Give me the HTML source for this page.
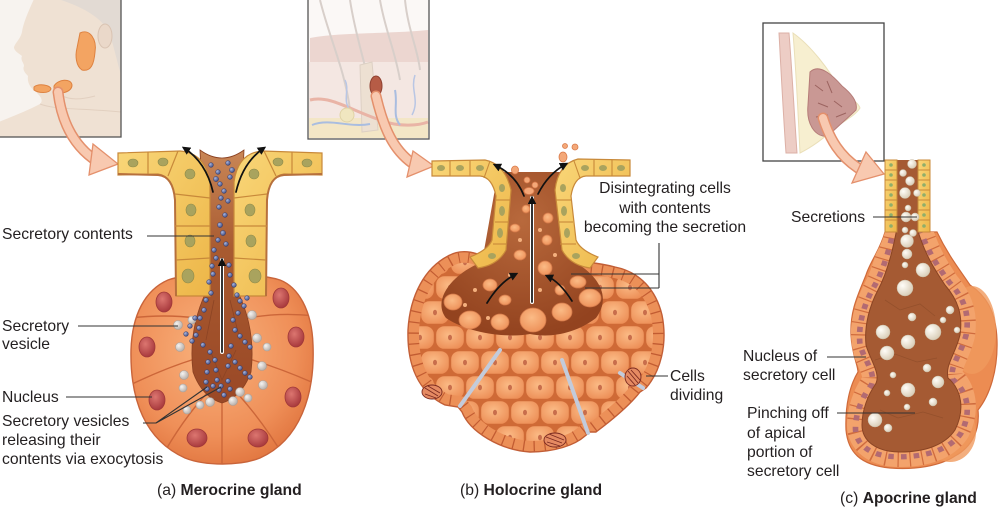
<!DOCTYPE html>
<html><head><meta charset="utf-8">
<style>
html,body{margin:0;padding:0;background:#fff;}
svg{display:block;}
text{font-family:"Liberation Sans",Arial,sans-serif;font-size:15.7px;fill:#231f20;}
</style></head><body>
<svg width="1000" height="510" viewBox="0 0 1000 510" xmlns="http://www.w3.org/2000/svg">
<defs>
 <radialGradient id="lobeA" cx="0.45" cy="0.4" r="0.65">
  <stop offset="0" stop-color="#f9b37e"/><stop offset="0.7" stop-color="#ef8f58"/><stop offset="1" stop-color="#e0743e"/>
 </radialGradient>
 <radialGradient id="cellG" cx="0.45" cy="0.4" r="0.7">
  <stop offset="0" stop-color="#fbbb86"/><stop offset="1" stop-color="#ec8c54"/>
 </radialGradient>
 <radialGradient id="nucR" cx="0.4" cy="0.35" r="0.7">
  <stop offset="0" stop-color="#dc7670"/><stop offset="1" stop-color="#a5363a"/>
 </radialGradient>
 <radialGradient id="lumB" cx="0.5" cy="0.3" r="0.7">
  <stop offset="0" stop-color="#b8693c"/><stop offset="1" stop-color="#93431f"/>
 </radialGradient>
 <linearGradient id="lumA" x1="0" y1="0" x2="0" y2="1">
  <stop offset="0" stop-color="#c98656"/><stop offset="0.4" stop-color="#a85a30"/><stop offset="1" stop-color="#9a4826"/>
 </linearGradient>
 <radialGradient id="wht" cx="0.35" cy="0.35" r="0.7"><stop offset="0" stop-color="#fffdf8"/><stop offset="1" stop-color="#d8ccb6"/></radialGradient>
 <radialGradient id="blu" cx="0.35" cy="0.35" r="0.7"><stop offset="0" stop-color="#aab6dc"/><stop offset="1" stop-color="#3b4880"/></radialGradient>
 <radialGradient id="gry" cx="0.35" cy="0.35" r="0.7"><stop offset="0" stop-color="#f6f4f2"/><stop offset="1" stop-color="#b5aca6"/></radialGradient>
 <linearGradient id="yel" x1="0" y1="0" x2="1" y2="1"><stop offset="0" stop-color="#f9d678"/><stop offset="1" stop-color="#edb648"/></linearGradient>
 <pattern id="cells" width="30" height="50" patternUnits="userSpaceOnUse">
  <rect width="30" height="50" fill="#cf6a36"/>
  <rect x="1.2" y="1.2" width="27.6" height="22.6" rx="8" fill="url(#cellG)"/>
  <rect x="16.2" y="26.2" width="27.6" height="22.6" rx="8" fill="url(#cellG)"/>
  <rect x="-13.8" y="26.2" width="27.6" height="22.6" rx="8" fill="url(#cellG)"/>
  <ellipse cx="15" cy="12.5" rx="2" ry="2.8" fill="#c86e4c"/>
  <ellipse cx="0" cy="37.5" rx="2" ry="2.8" fill="#c86e4c"/>
  <ellipse cx="30" cy="37.5" rx="2" ry="2.8" fill="#c86e4c"/>
 </pattern>
 <marker id="ah" viewBox="0 0 10 10" refX="7" refY="5" markerWidth="5" markerHeight="5" orient="auto"><path d="M0,0 L10,5 L0,10 z" fill="#111"/></marker>
 <clipPath id="hclip"><path d="M490,262 C480,252 462,248 448,256 C425,268 410,295 408,330 C407,365 418,392 445,405 L458,407 L462,412 C470,432 500,450 530,452 C555,452 575,445 585,436 L590,432 L596,432 C612,420 630,405 640,392 L646,388 C660,372 668,345 662,315 C656,290 640,272 615,267 C595,262 582,262 572,262 Z"/></clipPath>
 <clipPath id="aclip"><path d="M885,232 C880,250 870,262 866,275 C858,295 850,310 851,335 C852,355 858,365 858,372 C850,385 845,405 846,430 C848,452 860,465 890,468 C915,470 940,466 955,456 C972,447 980,430 978,410 C990,395 998,370 997,340 C996,310 985,295 970,285 C960,270 948,255 937,232 Z"/></clipPath>
 <clipPath id="mclip"><path d="M168,280 C190,272 255,272 280,280 C298,287 312,310 313,345 C315,395 300,440 260,458 C240,466 205,466 185,458 C145,440 130,400 131,350 C132,315 145,290 168,280 Z"/></clipPath>
</defs>

<!-- ===== Inset 1: face ===== -->
<g>
 <rect x="-1" y="-1" width="122" height="138" fill="#f7f3ef"/>
 <path d="M34,-1 C28,12 23,24 22,32 C20,40 14,44 14,48 C15,52 20,54 22,56 C20,60 24,63 24,66 C22,70 26,74 28,76 C27,82 30,88 36,92 C40,96 44,100 40,104 C25,112 8,118 -1,122 L-1,137 L121,137 L121,-1 Z" fill="#efe1d3"/>
 <path d="M58,-1 L121,-1 L121,75 C116,58 113,42 108,30 C100,18 86,8 58,-1 Z" fill="#e2dad3"/>
 <ellipse cx="105" cy="36" rx="7" ry="12" fill="#ead8c9" stroke="#d9c3b2"/>
 <path d="M40,104 C55,110 80,108 121,112" stroke="#e2d0c0" fill="none"/>
 <path d="M60,95 C70,100 80,100 95,96" stroke="#e2d0c0" fill="none"/>
 <path d="M80,33 C90,28 97,40 95,52 C94,64 91,72 82,70 C76,66 75,56 77,48 Z" fill="#f3a462" stroke="#de8240"/>
 <path d="M54,86 C58,79 71,78 72,85 C72,92 60,95 54,92 Z" fill="#f3a462" stroke="#de8240"/>
 <path d="M34,87 C39,83 50,85 51,89 C49,94 38,93 34,90 Z" fill="#f3a462" stroke="#de8240"/>
 <rect x="-1" y="-1" width="122" height="138" fill="none" stroke="#555" stroke-width="1.3"/>
</g>

<!-- ===== Inset 2: skin ===== -->
<g>
 <rect x="308" y="-1" width="121" height="140" fill="#fbf8f6"/>
 <path d="M310,38 C340,32 390,34 428,30 L428,62 C390,64 340,60 310,64 Z" fill="#ecd6d0"/>
 <rect x="309" y="62" width="119" height="58" fill="#f4e7e2"/>
 <rect x="309" y="118" width="119" height="20" fill="#f3e6c6"/>
 <path d="M320,0 C330,40 345,70 350,110" stroke="#d8cfca" stroke-width="2" fill="none"/>
 <path d="M350,0 C356,40 368,70 372,100" stroke="#d8cfca" stroke-width="2" fill="none"/>
 <path d="M380,0 C385,30 395,50 400,80" stroke="#d8cfca" stroke-width="2" fill="none"/>
 <path d="M405,0 C408,30 418,50 420,70" stroke="#d8cfca" stroke-width="2" fill="none"/>
 <path d="M360,65 L372,62 L378,130 L362,132 Z" fill="#ede0d2" stroke="#ddd0c4"/>
 <path d="M310,100 C330,95 350,110 380,120 C400,128 420,125 428,122" stroke="#e9b4a6" stroke-width="3" fill="none"/>
 <path d="M312,125 C330,118 350,128 370,124 M395,90 C398,105 392,115 400,125" stroke="#a9bde0" stroke-width="2" fill="none"/>
 <path d="M345,80 C350,90 342,100 350,110 M415,75 C410,90 420,100 412,115" stroke="#b9c6e4" stroke-width="1.5" fill="none"/>
 <circle cx="347" cy="115" r="7" fill="#f0e6c0" stroke="#e0d3a6"/>
 <ellipse cx="376" cy="86" rx="6" ry="10" fill="#b65c46" stroke="#8f4030"/>
 <rect x="308" y="-1" width="121" height="140" fill="none" stroke="#555" stroke-width="1.3"/>
</g>

<!-- ===== Inset 3: breast ===== -->
<g>
 <rect x="763" y="23" width="121" height="138" fill="#fff"/>
 <path d="M779,33 L789,33 C792,70 794,110 797,153 L786,153 C783,110 781,70 779,33 Z" fill="#edcdc5" stroke="#dcb0a6"/>
 <path d="M793,33 C810,45 830,70 840,90 C850,98 858,102 860,108 C855,116 845,120 835,128 C822,140 810,148 800,153 C798,110 796,70 793,33 Z" fill="#f7efd0" stroke="#eadfb8"/>
 <path d="M810,72 C820,62 835,78 842,86 C852,94 858,102 856,110 C848,118 838,126 828,136 C816,138 806,125 808,105 Z" fill="#c99894" stroke="#b57c78"/>
 <path d="M815,85 l8,6 m4,-10 l5,12 m-14,10 l10,4 m-12,10 l12,-2 m6,-14 l8,6 m-6,10 l10,-4" stroke="#9c6460" stroke-width="1" fill="none"/>
 <rect x="763" y="23" width="121" height="138" fill="none" stroke="#444" stroke-width="1.3"/>
</g>

<!-- ===== Salmon pointer arrows ===== -->
<g fill="none" stroke-linecap="round">
 <path d="M58,92 C62,125 76,148 98,162" stroke="#e4906c" stroke-width="11"/>
 <path d="M58,92 C62,125 76,148 98,162" stroke="#f8c9b0" stroke-width="8"/>
 <path d="M376,96 C384,130 394,150 412,163" stroke="#e4906c" stroke-width="11"/>
 <path d="M376,96 C384,130 394,150 412,163" stroke="#f8c9b0" stroke-width="8"/>
 <path d="M823,118 C830,140 840,156 858,168" stroke="#e4906c" stroke-width="11"/>
 <path d="M823,118 C830,140 840,156 858,168" stroke="#f8c9b0" stroke-width="8"/>
</g>
<polygon points="93,144 118,164 89,175" fill="#f8c9b0" stroke="#e4906c" stroke-width="1.3"/>
<polygon points="413,151 434,166 407,177" fill="#f8c9b0" stroke="#e4906c" stroke-width="1.3"/>
<polygon points="866,152 884,174 852,183" fill="#f8c9b0" stroke="#e4906c" stroke-width="1.3"/>

<!-- ===== (a) Merocrine gland ===== -->
<g>
 <path d="M168,280 C190,272 255,272 280,280 C298,287 312,310 313,345 C315,395 300,440 260,458 C240,466 205,466 185,458 C145,440 130,400 131,350 C132,315 145,290 168,280 Z" fill="url(#lobeA)" stroke="#c9643a" stroke-width="1.4"/>
 <g fill="none" stroke="#cc6639" stroke-width="1.4" clip-path="url(#mclip)">
  <path d="M196,318 Q165,314 130,318"/>
  <path d="M198,358 Q165,368 128,386"/>
  <path d="M208,392 Q182,420 160,460"/>
  <path d="M222,400 L222,470"/>
  <path d="M236,392 Q262,420 286,460"/>
  <path d="M246,358 Q280,368 316,384"/>
  <path d="M248,318 Q280,312 316,316"/>
 </g>
 <g fill="url(#nucR)" stroke="#a03838" stroke-width="0.8">
  <ellipse cx="164" cy="302" rx="8" ry="10"/>
  <ellipse cx="281" cy="298" rx="8" ry="10"/>
  <ellipse cx="147" cy="347" rx="8" ry="10"/>
  <ellipse cx="296" cy="337" rx="8" ry="10"/>
  <ellipse cx="157" cy="400" rx="8" ry="10"/>
  <ellipse cx="293" cy="397" rx="8" ry="10"/>
  <ellipse cx="197" cy="438" rx="10" ry="9"/>
  <ellipse cx="258" cy="438" rx="10" ry="9"/>
 </g>
 <!-- lumen -->
 <path d="M200,150 Q222,166 244,150 L238,292 Q256,330 251,372 Q242,397 222,403 Q202,397 193,372 Q188,330 206,292 Z" fill="url(#lumA)" stroke="#8a4020" stroke-width="0.8"/>
 <path d="M214,300 L206,340 M230,300 L240,340 M210,350 L222,380 L236,350" stroke="#8c4424" stroke-width="0.8" fill="none"/>
 <!-- yellow bands -->
 <path d="M118,153 L180,151 Q205,153 210,182 L210,296 L176,296 L175,200 Q173,176 158,174 L118,175 Z" fill="url(#yel)" stroke="#c8893a" stroke-width="1.2"/>
 <path d="M322,153 L262,151 Q238,153 234,182 L234,296 L266,296 L267,200 Q269,176 284,174 L322,175 Z" fill="url(#yel)" stroke="#c8893a" stroke-width="1.2"/>
 <path d="M118,174 L158,175 Q173,176 175,200 L176,296" stroke="#b7703c" stroke-width="2" fill="none"/>
 <path d="M322,174 L284,175 Q269,176 267,200 L266,296" stroke="#b7703c" stroke-width="2" fill="none"/>
 <g stroke="#c8893a" stroke-width="1.2" fill="none">
  <path d="M148,152 L148,174"/><path d="M178,151 L168,176"/>
  <path d="M175,194 L210,198"/><path d="M175,226 L210,226"/><path d="M176,260 L210,258"/>
  <path d="M292,152 L292,174"/><path d="M264,151 L276,176"/>
  <path d="M234,198 L267,194"/><path d="M234,226 L267,226"/><path d="M234,258 L266,260"/>
 </g>
 <g fill="#a9a35e" stroke="#8f8a48" stroke-width="0.6">
  <ellipse cx="133" cy="163" rx="5" ry="4"/><ellipse cx="163" cy="162" rx="5" ry="4"/><ellipse cx="190" cy="174" rx="5" ry="5"/>
  <ellipse cx="191" cy="210" rx="5" ry="6"/><ellipse cx="190" cy="241" rx="5" ry="6"/><ellipse cx="188" cy="276" rx="6" ry="7"/>
  <ellipse cx="307" cy="163" rx="5" ry="4"/><ellipse cx="278" cy="162" rx="5" ry="4"/><ellipse cx="254" cy="174" rx="5" ry="5"/>
  <ellipse cx="250" cy="210" rx="5" ry="6"/><ellipse cx="251" cy="241" rx="5" ry="6"/><ellipse cx="255" cy="276" rx="6" ry="7"/>
 </g>
 <!-- grey vesicles -->
 <g fill="url(#gry)" stroke="#a9a09a" stroke-width="0.6">
  <circle cx="178" cy="325" r="4.5"/><circle cx="192" cy="320" r="4"/><circle cx="180" cy="347" r="4.5"/>
  <circle cx="184" cy="375" r="4.5"/><circle cx="183" cy="388" r="4"/><circle cx="252" cy="315" r="4.5"/>
  <circle cx="257" cy="338" r="4.5"/><circle cx="267" cy="347" r="4"/><circle cx="262" cy="366" r="4.5"/>
  <circle cx="263" cy="385" r="4.5"/><circle cx="240" cy="392" r="4.5"/><circle cx="248" cy="398" r="4"/>
  <circle cx="233" cy="401" r="4.5"/><circle cx="210" cy="402" r="4.5"/><circle cx="200" cy="405" r="4"/>
  <circle cx="187" cy="410" r="4"/>
 </g>
 <!-- blue dots -->
 <g fill="url(#blu)" stroke="#2c3566" stroke-width="0.4">
  <circle cx="211" cy="165" r="2.4"/><circle cx="218" cy="172" r="2.4"/><circle cx="216" cy="179" r="2.6"/>
  <circle cx="228" cy="163" r="2.4"/><circle cx="232" cy="170" r="2.6"/><circle cx="230" cy="177" r="2.4"/>
  <circle cx="220" cy="184" r="2.4"/><circle cx="224" cy="191" r="2.4"/><circle cx="221" cy="198" r="2.4"/>
  <circle cx="228" cy="201" r="2.4"/><circle cx="219" cy="207" r="2.4"/><circle cx="225" cy="215" r="2.4"/>
  <circle cx="220" cy="225" r="2.6"/><circle cx="223" cy="233" r="2.6"/><circle cx="218" cy="240" r="2.4"/>
  <circle cx="226" cy="244" r="2.4"/><circle cx="214" cy="250" r="2.4"/><circle cx="216" cy="258" r="2.4"/>
  <circle cx="212" cy="266" r="2.4"/><circle cx="213" cy="274" r="2.4"/><circle cx="209" cy="282" r="2.4"/>
  <circle cx="211" cy="293" r="2.4"/><circle cx="206" cy="300" r="2.4"/><circle cx="204" cy="310" r="2.4"/>
  <circle cx="200" cy="318" r="2.4"/><circle cx="199" cy="328" r="2.4"/><circle cx="196" cy="335" r="2.4"/>
  <circle cx="192" cy="341" r="2.4"/><circle cx="203" cy="345" r="2.4"/><circle cx="210" cy="352" r="2.4"/>
  <circle cx="208" cy="362" r="2.4"/><circle cx="207" cy="372" r="2.4"/><circle cx="206" cy="382" r="2.4"/>
  <circle cx="207" cy="389" r="2.4"/><circle cx="215" cy="360" r="2.4"/><circle cx="216" cy="370" r="2.4"/>
  <circle cx="217" cy="380" r="2.4"/><circle cx="219" cy="390" r="2.4"/><circle cx="229" cy="265" r="2.4"/>
  <circle cx="230" cy="275" r="2.4"/><circle cx="234" cy="285" r="2.4"/><circle cx="237" cy="295" r="2.4"/>
  <circle cx="240" cy="301" r="2.4"/><circle cx="244" cy="306" r="2.4"/><circle cx="238" cy="313" r="2.4"/>
  <circle cx="233" cy="320" r="2.4"/><circle cx="235" cy="330" r="2.4"/><circle cx="240" cy="336" r="2.4"/>
  <circle cx="245" cy="342" r="2.4"/><circle cx="250" cy="347" r="2.4"/><circle cx="231" cy="346" r="2.4"/>
  <circle cx="229" cy="356" r="2.4"/><circle cx="228" cy="366" r="2.4"/><circle cx="235" cy="362" r="2.4"/>
  <circle cx="240" cy="368" r="2.4"/><circle cx="245" cy="373" r="2.4"/><circle cx="250" cy="377" r="2.4"/>
  <circle cx="228" cy="381" r="2.4"/><circle cx="230" cy="389" r="2.4"/><circle cx="224" cy="395" r="2.4"/>
  <circle cx="186" cy="334" r="2.4"/><circle cx="190" cy="326" r="2.4"/><circle cx="195" cy="318" r="2.4"/>
  <circle cx="247" cy="298" r="2.4"/><circle cx="213" cy="386" r="2.4"/><circle cx="221" cy="386" r="2.4"/>
 </g>
 <!-- black arrows -->
 <g fill="none" stroke-linecap="round">
  <path d="M222,352 L222,260" stroke="#fff" stroke-width="4"/>
  <path d="M222,352 L222,260" stroke="#111" stroke-width="1.7" marker-end="url(#ah)"/>
  <path d="M213,192 Q206,162 184,148" stroke="#111" stroke-width="1.7" marker-end="url(#ah)"/>
  <path d="M236,192 Q243,162 264,148" stroke="#111" stroke-width="1.7" marker-end="url(#ah)"/>
 </g>
</g>

<!-- ===== (b) Holocrine gland ===== -->
<g>
 <g clip-path="url(#hclip)">
  <rect x="400" y="240" width="280" height="220" fill="url(#cells)"/>
  <path d="M490,262 C480,252 462,248 448,256 C425,268 410,295 408,330 C407,365 418,392 445,405 L458,407 L462,412 C470,432 500,450 530,452 C555,452 575,445 585,436 L590,432 L596,432 C612,420 630,405 640,392 L646,388 C660,372 668,345 662,315 C656,290 640,272 615,267 C595,262 582,262 572,262 Z" fill="none" stroke="#ec9058" stroke-width="22"/>
  <path d="M490,262 C480,252 462,248 448,256 C425,268 410,295 408,330 C407,365 418,392 445,405 L458,407 L462,412 C470,432 500,450 530,452 C555,452 575,445 585,436 L590,432 L596,432 C612,420 630,405 640,392 L646,388 C660,372 668,345 662,315 C656,290 640,272 615,267 C595,262 582,262 572,262 Z" fill="none" stroke="#c25c32" stroke-width="22" stroke-dasharray="1.3 10"/>
 </g>
 <path d="M490,262 C480,252 462,248 448,256 C425,268 410,295 408,330 C407,365 418,392 445,405 L458,407 L462,412 C470,432 500,450 530,452 C555,452 575,445 585,436 L590,432 L596,432 C612,420 630,405 640,392 L646,388 C660,372 668,345 662,315 C656,290 640,272 615,267 C595,262 582,262 572,262 Z" fill="none" stroke="#c25e36" stroke-width="1.4"/>
 <!-- brown central region -->
 <path d="M498,172 L562,172 L575,262 C598,276 612,296 596,318 C575,334 550,338 530,334 C508,338 470,334 446,318 C432,300 452,274 482,262 Z" fill="url(#lumB)"/>
 <g fill="url(#cellG)" stroke="#d47a4a" stroke-width="0.8">
  <ellipse cx="453" cy="302" rx="9" ry="8"/><ellipse cx="470" cy="320" rx="11" ry="9"/>
  <ellipse cx="500" cy="322" rx="9" ry="8"/><ellipse cx="533" cy="320" rx="13" ry="12"/>
  <ellipse cx="562" cy="312" rx="10" ry="9"/><ellipse cx="590" cy="298" rx="11" ry="9"/>
  <ellipse cx="578" cy="282" rx="8" ry="6"/><ellipse cx="545" cy="268" rx="7" ry="7"/>
  <ellipse cx="520" cy="255" rx="6" ry="5"/><ellipse cx="547" cy="240" rx="5" ry="5"/>
  <ellipse cx="515" cy="228" rx="5" ry="4"/><ellipse cx="548" cy="218" rx="5" ry="5"/>
  <ellipse cx="526" cy="209" rx="4" ry="4"/><ellipse cx="490" cy="285" rx="7" ry="6"/>
  <ellipse cx="505" cy="300" rx="6" ry="5"/><ellipse cx="560" cy="290" rx="5" ry="5"/>
 </g>
 <g fill="#f4b07e">
  <circle cx="475" cy="290" r="2"/><circle cx="465" cy="305" r="2"/><circle cx="510" cy="275" r="2"/>
  <circle cx="540" cy="290" r="2"/><circle cx="555" cy="255" r="2"/><circle cx="520" cy="240" r="2"/>
  <circle cx="540" cy="230" r="2"/><circle cx="600" cy="280" r="2"/><circle cx="488" cy="318" r="2"/>
 </g>
 <!-- gaps -->
 <g stroke="#c3cbdb" stroke-width="4" fill="none" stroke-linecap="round">
  <path d="M500,350 L460,406"/><path d="M562,360 L588,433"/><path d="M620,373 L643,388"/>
 </g>
 <!-- dividing cells -->
 <g stroke="#7a2a20" stroke-width="0.9" fill="none">
  <ellipse cx="432" cy="392" rx="10" ry="7" fill="#e58a62"/>
  <path d="M425,388 L438,396 M428,386 L440,393 M425,394 L436,398"/>
  <ellipse cx="555" cy="440" rx="11" ry="7" fill="#e58a62"/>
  <path d="M546,437 L562,443 M549,434 L564,440 M547,442 L560,446"/>
  <ellipse cx="633" cy="377" rx="8" ry="9" fill="#e58a62"/>
  <path d="M628,371 L638,383 M631,370 L640,380 M627,376 L635,385"/>
 </g>
 <!-- yellow bands -->
 <path d="M432,161 L485,160 Q505,164 511,190 L506,250 Q498,265 478,268 L470,257 Q488,250 492,240 L496,196 Q492,177 480,176 L432,176 Z" fill="url(#yel)" stroke="#c8893a" stroke-width="1.2"/>
 <path d="M630,160 L578,159 Q558,164 555,190 L562,250 Q570,265 590,268 L598,257 Q580,250 576,240 L571,196 Q574,177 586,176 L630,176 Z" fill="url(#yel)" stroke="#c8893a" stroke-width="1.2"/>
 <g stroke="#c8893a" stroke-width="1.1" fill="none">
  <path d="M450,161 L450,176"/><path d="M470,160 L470,176"/><path d="M490,161 L484,178"/>
  <path d="M496,200 L510,200"/><path d="M495,222 L509,222"/><path d="M493,244 L507,244"/>
  <path d="M612,160 L612,176"/><path d="M594,160 L594,176"/><path d="M574,161 L580,178"/>
  <path d="M556,200 L571,200"/><path d="M558,222 L573,222"/><path d="M560,244 L576,244"/>
 </g>
 <g fill="#a9a35e">
  <ellipse cx="441" cy="168" rx="4" ry="3"/><ellipse cx="460" cy="168" rx="4" ry="3"/><ellipse cx="480" cy="168" rx="4" ry="3"/>
  <ellipse cx="502" cy="188" rx="3" ry="4"/><ellipse cx="502" cy="211" rx="3" ry="5"/><ellipse cx="500" cy="233" rx="3" ry="5"/><ellipse cx="492" cy="256" rx="4" ry="3"/>
  <ellipse cx="621" cy="168" rx="4" ry="3"/><ellipse cx="603" cy="168" rx="4" ry="3"/><ellipse cx="585" cy="168" rx="4" ry="3"/>
  <ellipse cx="563" cy="188" rx="3" ry="4"/><ellipse cx="564" cy="211" rx="3" ry="5"/><ellipse cx="567" cy="233" rx="3" ry="5"/><ellipse cx="576" cy="256" rx="4" ry="3"/>
 </g>
 <!-- fragments -->
 <g fill="#f4a878" stroke="#d97a4a" stroke-width="0.8">
  <ellipse cx="515" cy="170" rx="3.5" ry="4"/><ellipse cx="527" cy="180" rx="3" ry="3"/>
  <ellipse cx="535" cy="185" rx="3" ry="3"/><ellipse cx="529" cy="191" rx="5" ry="3.5"/>
  <ellipse cx="563" cy="157" rx="4" ry="5"/><ellipse cx="565" cy="146" rx="2.5" ry="2.5"/>
  <ellipse cx="575" cy="147" rx="3" ry="3"/>
 </g>
 <!-- arrows -->
 <g fill="none" stroke-linecap="round">
  <path d="M532,302 L532,198" stroke="#fff" stroke-width="4"/>
  <path d="M532,302 L532,198" stroke="#111" stroke-width="1.7" marker-end="url(#ah)"/>
  <path d="M524,196 Q516,175 495,165" stroke="#111" stroke-width="1.7" marker-end="url(#ah)"/>
  <path d="M538,194 Q548,174 566,164" stroke="#111" stroke-width="1.7" marker-end="url(#ah)"/>
  <path d="M487,303 Q500,282 516,274" stroke="#111" stroke-width="1.7" marker-end="url(#ah)"/>
  <path d="M572,301 Q560,282 547,276" stroke="#111" stroke-width="1.7" marker-end="url(#ah)"/>
 </g>
</g>

<!-- ===== (c) Apocrine gland ===== -->
<g>
 <path d="M885,232 C880,250 870,262 866,275 C858,295 850,310 851,335 C852,355 858,365 858,372 C850,385 845,405 846,430 C848,452 860,465 890,468 C915,470 940,466 955,456 C972,447 980,430 978,410 C990,395 998,370 997,340 C996,310 985,295 970,285 C960,270 948,255 937,232 Z" fill="#ec8c52" stroke="#cf6a3a" stroke-width="1.2"/>
 <ellipse cx="972" cy="330" rx="24" ry="44" fill="#f09a5e" opacity="0.8"/>
 <ellipse cx="950" cy="432" rx="26" ry="30" fill="#f09a5e" opacity="0.8"/>
 <g clip-path="url(#aclip)">
  <path d="M897,228 L917,228 C925,255 935,270 945,285 C958,300 963,315 960,335 C955,355 945,365 948,378 C962,390 965,410 955,430 C945,445 925,452 900,452 C875,452 862,440 862,425 C862,410 868,395 875,385 C882,375 870,360 866,345 C864,325 870,305 878,290 C886,275 892,255 897,228 Z" fill="none" stroke="#f3a36c" stroke-width="30"/>
  <path d="M897,228 L917,228 C925,255 935,270 945,285 C958,300 963,315 960,335 C955,355 945,365 948,378 C962,390 965,410 955,430 C945,445 925,452 900,452 C875,452 862,440 862,425 C862,410 868,395 875,385 C882,375 870,360 866,345 C864,325 870,305 878,290 C886,275 892,255 897,228 Z" fill="none" stroke="#d06c3e" stroke-width="30" stroke-dasharray="1.2 10"/>
  <path d="M897,228 L917,228 C925,255 935,270 945,285 C958,300 963,315 960,335 C955,355 945,365 948,378 C962,390 965,410 955,430 C945,445 925,452 900,452 C875,452 862,440 862,425 C862,410 868,395 875,385 C882,375 870,360 866,345 C864,325 870,305 878,290 C886,275 892,255 897,228 Z" fill="none" stroke="#b26a72" stroke-width="5" stroke-dasharray="5 6.2" stroke-dashoffset="-3" transform="translate(912 345) scale(1.13 1.045) translate(-912 -345)"/>
 </g>
 <path d="M897,228 L917,228 C925,255 935,270 945,285 C958,300 963,315 960,335 C955,355 945,365 948,378 C962,390 965,410 955,430 C945,445 925,452 900,452 C875,452 862,440 862,425 C862,410 868,395 875,385 C882,375 870,360 866,345 C864,325 870,305 878,290 C886,275 892,255 897,228 Z" fill="#a55a33" stroke="#8a4424" stroke-width="1"/>
 <path d="M885,300 l15,10 l20,-6 l15,12 M875,360 l20,-6 l22,8 l20,-4 M880,410 l18,8 l25,-6 l20,6" stroke="#94502c" stroke-width="0.8" fill="none"/>
 <!-- duct top -->
 <rect x="897" y="160" width="21" height="72" fill="#a55a33"/>
 <rect x="885" y="160" width="12" height="72" fill="url(#yel)" stroke="#c8893a" stroke-width="1"/>
 <rect x="918" y="160" width="12" height="72" fill="url(#yel)" stroke="#c8893a" stroke-width="1"/>
 <g stroke="#c8893a" stroke-width="0.9">
  <path d="M885,170 h12 M885,180 h12 M885,190 h12 M885,200 h12 M885,210 h12 M885,220 h12"/>
  <path d="M918,170 h12 M918,180 h12 M918,190 h12 M918,200 h12 M918,210 h12 M918,220 h12"/>
 </g>
 <g fill="#8fae6a">
  <circle cx="891" cy="165" r="1.8"/><circle cx="891" cy="175" r="1.8"/><circle cx="891" cy="185" r="1.8"/><circle cx="891" cy="195" r="1.8"/><circle cx="891" cy="205" r="1.8"/><circle cx="891" cy="215" r="1.8"/><circle cx="891" cy="226" r="1.8"/>
  <circle cx="924" cy="165" r="1.8"/><circle cx="924" cy="175" r="1.8"/><circle cx="924" cy="185" r="1.8"/><circle cx="924" cy="195" r="1.8"/><circle cx="924" cy="205" r="1.8"/><circle cx="924" cy="215" r="1.8"/><circle cx="924" cy="226" r="1.8"/>
 </g>
 <!-- secretions -->
 <g fill="url(#wht)" stroke="#c9bba4" stroke-width="0.5">
  <circle cx="912" cy="164" r="4.5"/><circle cx="903" cy="173" r="3.5"/><circle cx="910" cy="181" r="4.5"/>
  <circle cx="905" cy="193" r="5.5"/><circle cx="917" cy="193" r="3.5"/><circle cx="908" cy="208" r="3"/>
  <circle cx="906" cy="217" r="5"/><circle cx="915" cy="217" r="4"/><circle cx="905" cy="230" r="3"/>
  <circle cx="907" cy="241" r="6.5"/><circle cx="913" cy="233" r="3.5"/><circle cx="907" cy="254" r="5"/>
  <circle cx="905" cy="265" r="3"/><circle cx="923" cy="270" r="7"/><circle cx="905" cy="288" r="8"/>
  <circle cx="912" cy="317" r="4"/><circle cx="950" cy="310" r="4"/><circle cx="943" cy="320" r="3"/>
  <circle cx="883" cy="332" r="7"/><circle cx="933" cy="332" r="8"/><circle cx="908" cy="342" r="7"/>
  <circle cx="957" cy="330" r="3"/><circle cx="887" cy="353" r="7"/><circle cx="927" cy="368" r="4"/>
  <circle cx="893" cy="375" r="3"/><circle cx="938" cy="382" r="6"/><circle cx="908" cy="390" r="7"/>
  <circle cx="887" cy="393" r="3"/><circle cx="933" cy="402" r="4"/><circle cx="875" cy="420" r="7"/>
  <circle cx="907" cy="407" r="3"/><circle cx="888" cy="428" r="4"/>
 </g>
</g>

<!-- ===== Labels & leader lines ===== -->
<g stroke="#333" stroke-width="1.1" fill="none">
 <path d="M147,236 L214,236"/>
 <path d="M78,326 L178,326"/>
 <path d="M66,397 L152,397"/>
 <path d="M143,423 L156,423 L207,387 M156,423 L221,387"/>
 <path d="M659,243 L659,288 M571,274 L659,274 M585,288 L659,288"/>
 <path d="M646,376 L668,376"/>
 <path d="M873,217 L917,217"/>
 <path d="M827,357 L866,357"/>
 <path d="M837,413 L915,413"/>
</g>
<text x="2" y="239">Secretory contents</text>
<text x="2" y="331">Secretory</text>
<text x="2" y="349">vesicle</text>
<text x="2" y="402">Nucleus</text>
<text x="2" y="426">Secretory vesicles</text>
<text x="2" y="445">releasing their</text>
<text x="2" y="464">contents via exocytosis</text>
<text x="157" y="495">(a) <tspan font-weight="bold">Merocrine gland</tspan></text>

<text x="665" y="193" text-anchor="middle">Disintegrating cells</text>
<text x="665" y="213" text-anchor="middle">with contents</text>
<text x="665" y="232" text-anchor="middle">becoming the secretion</text>
<text x="670" y="381">Cells</text>
<text x="670" y="400">dividing</text>
<text x="460" y="495">(b) <tspan font-weight="bold">Holocrine gland</tspan></text>

<text x="791" y="222">Secretions</text>
<text x="743" y="361">Nucleus of</text>
<text x="743" y="380">secretory cell</text>
<text x="747" y="418">Pinching off</text>
<text x="747" y="438">of apical</text>
<text x="747" y="457">portion of</text>
<text x="747" y="476">secretory cell</text>
<text x="840" y="503">(c) <tspan font-weight="bold">Apocrine gland</tspan></text>
</svg>
</body></html>
